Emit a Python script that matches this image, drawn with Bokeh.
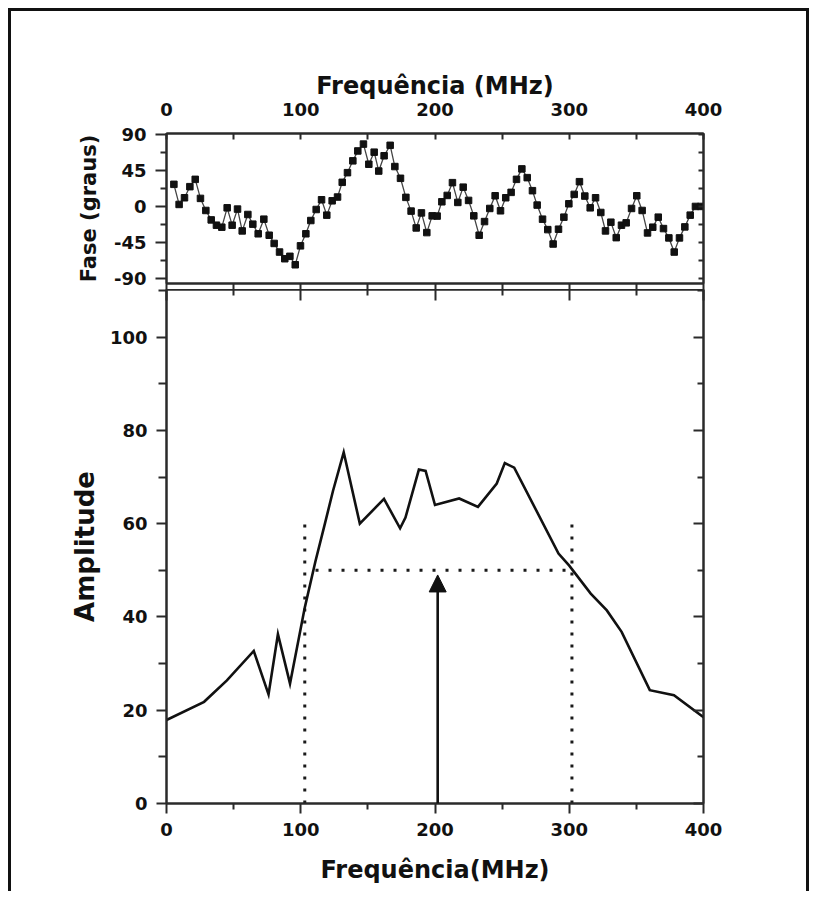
from bokeh.plotting import figure
from bokeh.layouts import column
from bokeh.models import (Range1d, LinearAxis, FixedTicker, Arrow, NormalHead, ColumnDataSource)
from bokeh.embed import file_html
from bokeh.resources import INLINE

# ---------------- data ----------------
phase_freq = [5.5, 9.4, 13.4, 17.4, 21.4, 25.3, 29.3, 33.3, 37.2, 41.2, 45.2, 48.9, 52.9, 56.4,
              60.6, 64.3, 68.3, 72.5, 76.5, 80.2, 84.2, 88.1, 91.9, 95.9, 99.8, 103.8, 107.5,
              111.5, 115.5, 119.4, 123.4, 127.4, 130.9, 134.8, 138.8, 142.5, 146.7, 150.7,
              154.7, 158.1, 162.1, 166.6, 170.1, 174.3, 178.3, 182.2, 186.0, 189.9, 193.9,
              197.9, 201.6, 205.1, 209.1, 213.0, 217.0, 221.0, 225.0, 228.9, 232.9, 236.9,
              240.8, 244.8, 248.8, 252.7, 256.7, 260.7, 264.7, 268.7, 272.6, 276.1, 280.1,
              284.0, 288.0, 292.0, 296.0, 299.7, 303.7, 307.6, 311.6, 315.6, 319.6, 323.5,
              327.0, 331.0, 335.0, 338.9, 342.4, 346.4, 350.3, 354.3, 358.3, 362.2, 366.3,
              370.2, 374.2, 378.2, 382.1, 386.1, 390.1, 394.0, 398.0]
phase_deg = [27.5, 2.5, 10.8, 24.6, 33.7, 10, -5, -16.7, -23.3, -25.8, -1.7, -23.3, -3.3, -30.4,
             -10, -22, -34, -15.8, -35.8, -46, -56.7, -65, -62, -72.5, -49, -34, -17.5,
             -3.8, 8.3, -10.8, 7, 11.7, 30, 42, 56.7, 69, 77.5, 52.5,
             67.5, 44, 63, 76, 49.6, 35, 11.3, -5.8, -26.7, -8, -32.5,
             -11.7, -12, 5.8, 13.7, 29.6, 5, 24, 7.5, -11.7, -35.8, -18.8,
             -2.5, 13.3, -5.4, 10.8, 17.5, 33.7, 46.7, 35.8, 19.6, 1.7, -15.8,
             -28.8, -46.7, -28.3, -13.3, 3.3, 15, 30.8, 12.9, -1.7, 10.8, -7.5,
             -30.4, -19.6, -38.8, -23.3, -20.4, -2.5, 13.3, -5, -32.9, -25.8, -13.3,
             -27.5, -39.1, -56.7, -39.1, -25.4, -10.8, 0, 0]

amp_freq = [0, 28, 45, 65, 76, 83, 92, 103, 111, 118, 124, 132, 144, 162, 174, 178, 188, 193,
            200, 218, 232, 246, 252, 259, 292, 300, 316, 328, 339, 360, 378, 400]
amp_val = [17.9, 21.8, 26.4, 32.7, 23.4, 36.3, 25.7, 42, 52, 60, 67, 75.3, 60, 65.3, 59, 61.3,
           71.6, 71.3, 64, 65.4, 63.6, 68.6, 73, 72, 53.6, 51, 45, 41.4, 36.8, 24.3, 23.2, 18.5]

band_low = 103       # MHz, left marker
band_high = 302      # MHz, right marker
band_marker_top = 61 # top of vertical dotted markers
half_level = 50      # horizontal dotted level
half_start = 111     # start of horizontal dotted line
center_freq = 202    # arrow position
arrow_top = 49

freq_ticks = [0, 100, 200, 300, 400]
freq_minor = [50, 150, 250, 350]
phase_ticks = [-90, -45, 0, 45, 90]
phase_minor = [-67.5, -22.5, 22.5, 67.5]
amp_ticks = [0, 20, 40, 60, 80, 100]
amp_minor = [10, 30, 50, 70, 90, 110]

FONT = "DejaVu Sans"
AX = "#2a2a2a"
TXT = "#111111"

def style_axis(ax, tin, tout, mtin, mtout, labels=True, size="18px", label_size="24px"):
    ax.axis_line_color = AX
    ax.axis_line_width = 2
    ax.major_tick_line_color = AX
    ax.minor_tick_line_color = AX
    ax.major_tick_line_width = 2
    ax.minor_tick_line_width = 2
    ax.major_tick_in = tin
    ax.major_tick_out = tout
    ax.minor_tick_in = mtin
    ax.minor_tick_out = mtout
    ax.major_label_text_font = FONT
    ax.major_label_text_font_style = "bold"
    ax.major_label_text_font_size = size
    ax.axis_label_text_font = FONT
    ax.axis_label_text_font_style = "bold"
    ax.axis_label_text_color = TXT
    ax.axis_label_text_font_size = label_size
    if labels:
        ax.major_label_text_color = TXT
    else:
        ax.major_label_text_color = None
        ax.major_label_standoff = 0

# ---------------- top panel (phase) ----------------
p1 = figure(width=795, height=278, output_backend="svg", toolbar_location=None,
            x_range=Range1d(0, 400), y_range=Range1d(-95.8, 90.7),
            x_axis_location=None, y_axis_location=None,
            min_border_left=155, min_border_right=103, min_border_top=122, min_border_bottom=6)
p1.frame_height = 150
p1.frame_width = 537
p1.grid.visible = False
p1.outline_line_color = AX
p1.outline_line_width = 2

ax_top = LinearAxis(ticker=FixedTicker(ticks=freq_ticks, minor_ticks=freq_minor),
                    axis_label="Frequência (MHz)")
style_axis(ax_top, 6, 0, 6, 0)
ax_top.major_label_standoff = 18
ax_top.axis_label_standoff = 0
p1.add_layout(ax_top, "above")

ax_l1 = LinearAxis(ticker=FixedTicker(ticks=phase_ticks, minor_ticks=phase_minor),
                   axis_label="Fase (graus)")
style_axis(ax_l1, 0, 11, 0, 6, label_size="21px")
ax_l1.major_label_standoff = 9
ax_l1.axis_label_standoff = 10
ax_l1.major_label_overrides = {-90: "-90", -45: "-45"}
p1.add_layout(ax_l1, "left")

ax_r1 = LinearAxis(ticker=FixedTicker(ticks=phase_ticks, minor_ticks=phase_minor))
style_axis(ax_r1, 5, 0, 5, 0, labels=False)
p1.add_layout(ax_r1, "right")

ax_b1 = LinearAxis(ticker=FixedTicker(ticks=freq_ticks, minor_ticks=freq_minor))
style_axis(ax_b1, 0, 6, 0, 6, labels=False)
p1.add_layout(ax_b1, "below")

src_p = ColumnDataSource(dict(x=phase_freq, y=phase_deg))
p1.line("x", "y", source=src_p, line_color="#444444", line_width=1.3)
p1.scatter("x", "y", source=src_p, marker="square", size=6.5, fill_color="#111111",
           line_color="#111111")

# ---------------- bottom panel (amplitude) ----------------
p2 = figure(width=795, height=602, output_backend="svg", toolbar_location=None,
            x_range=Range1d(0, 400), y_range=Range1d(0, 110.2),
            x_axis_location=None, y_axis_location=None,
            min_border_left=155, min_border_right=103, min_border_top=0, min_border_bottom=88)
p2.frame_height = 514
p2.frame_width = 537
p2.grid.visible = False
p2.outline_line_color = AX
p2.outline_line_width = 2

ax_b = LinearAxis(ticker=FixedTicker(ticks=freq_ticks, minor_ticks=freq_minor),
                  axis_label="Frequência(MHz)")
style_axis(ax_b, 0, 10, 0, 6)
ax_b.major_label_standoff = 9
ax_b.axis_label_standoff = 17
p2.add_layout(ax_b, "below")

ax_l2 = LinearAxis(ticker=FixedTicker(ticks=amp_ticks, minor_ticks=amp_minor),
                   axis_label="Amplitude")
style_axis(ax_l2, 0, 10, 0, 8, label_size="26px")
ax_l2.major_label_standoff = 9
ax_l2.axis_label_standoff = 7
p2.add_layout(ax_l2, "left")

ax_r2 = LinearAxis(ticker=FixedTicker(ticks=amp_ticks, minor_ticks=amp_minor))
style_axis(ax_r2, 10, 0, 6, 0, labels=False)
p2.add_layout(ax_r2, "right")

ax_t2 = LinearAxis(ticker=FixedTicker(ticks=freq_ticks, minor_ticks=freq_minor))
style_axis(ax_t2, 11, 0, 6, 0, labels=False)
p2.add_layout(ax_t2, "above")

# dotted band markers
DOT = dict(line_color="#1a1a1a", line_width=3, line_cap="butt")
p2.line([band_low, band_low], [0, band_marker_top], line_dash="3 9", **DOT)
p2.line([band_high, band_high], [0, band_marker_top], line_dash="3 9", **DOT)
p2.line([half_start, band_high], [half_level, half_level], line_dash="3 10", **DOT)

p2.line(amp_freq, amp_val, line_color="#111111", line_width=2.6, line_join="miter")

p2.add_layout(Arrow(end=NormalHead(size=17, fill_color="#111111", line_color="#111111"),
                    x_start=center_freq, y_start=0, x_end=center_freq, y_end=arrow_top,
                    line_color="#111111", line_width=2.6))

layout = column(p1, p2, spacing=0,
                styles={"border-top": "3px solid #111", "border-left": "3px solid #111",
                        "border-right": "3px solid #111", "background-color": "white",
                        "margin-left": "8px", "margin-top": "8px"})

open("out.html", "w").write(file_html(layout, INLINE))
